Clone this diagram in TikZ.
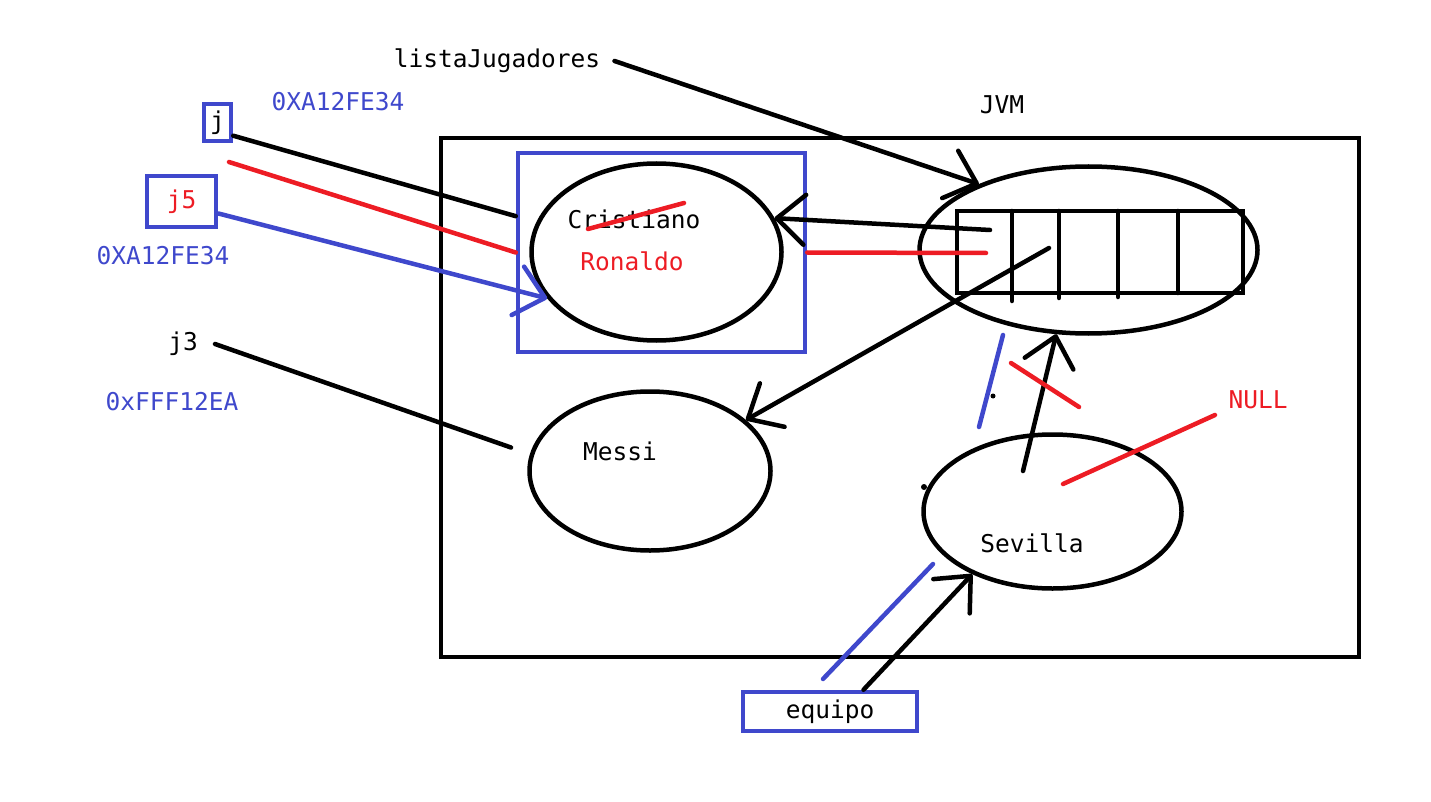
\documentclass[tikz,border=0pt]{standalone}
\usepackage{fontspec}
\setmonofont{DejaVu Sans Mono}
\usetikzlibrary{shapes.geometric,arrows.meta}
\definecolor{pblue}{RGB}{63,72,204}
\definecolor{pred}{RGB}{237,28,36}
\begin{document}
\begin{tikzpicture}[x=1pt,y=-1pt,line width=4.5pt,line cap=round,
  txt/.style={font=\ttfamily\fontsize{24.5}{28}\selectfont,inner sep=0pt},
  ell/.style={draw,ellipse,inner sep=0pt},
  bx/.style={draw=pblue,rectangle,inner sep=0pt},
  hd/.style={-{Straight Barb[length=28pt,width=50pt,round]}}]
\useasboundingbox (0,0) rectangle (1431,802);
\node[draw,minimum width=918pt,minimum height=519pt,inner sep=0pt] (jvm) at (900,397.5) {};
\node[txt] (lista) at (497,61) {listaJugadores};
\node[txt,pblue] (adr1) at (338,102) {0XA12FE34};
\node[txt] (jvmlbl) at (1002,105) {JVM};
\node[bx,txt,minimum width=27pt,minimum height=37pt] (j) at (217.5,122.5) {j};
\node[bx,txt,text=pred,minimum width=69pt,minimum height=51pt] (j5) at (181.5,201.5) {j5};
\node[txt,pblue] (adr2) at (163,256) {0XA12FE34};
\node[txt] (j3) at (183,344) {j3};
\node[txt,pblue] (adr3) at (172,402) {0xFFF12EA};
\node[bx,minimum width=287pt,minimum height=199pt] (cbox) at (661.5,252.5) {};
\node[ell,minimum width=250pt,minimum height=177pt] (cris) at (656.5,252) {};
\node[txt] (nom) at (634,219) {Cristiano};
\node[txt,pred] (ape) at (632,261) {Ronaldo};
\node[ell,minimum width=241pt,minimum height=159pt] (messi) at (650,471) {};
\node[txt] (messilbl) at (620,451) {Messi};
\node[ell,minimum width=338pt,minimum height=167pt] (arr) at (1088.5,250) {};
\node[draw,minimum width=286pt,minimum height=82pt,inner sep=0pt] (celdas) at (1100,252) {};
\foreach \x/\y in {1012/301,1059/298,1118/297,1178/293}
  \draw (\x,211) -- (\x,\y);
\node[ell,minimum width=258pt,minimum height=154pt] (sev) at (1052.5,511.5) {};
\node[txt] (sevlbl) at (1032,543) {Sevilla};
\node[txt,pred] (null) at (1258,400) {NULL};
\node[bx,txt,minimum width=174pt,minimum height=39pt] (equipo) at (830,711.5) {equipo};
\coordinate (r1) at (229,162);
\coordinate (c1) at (990,230);
\coordinate (c2) at (986,253);
\coordinate (c3) at (1049,248);
\coordinate (s1) at (1023,471);
\coordinate (b1) at (823,679);
\coordinate (b2) at (933,564);
\coordinate (n0) at (1063,484);
\coordinate (n1) at (1215,415);
\draw[hd] ([xshift=12pt]lista.east) -- (arr.149);
\draw (j.-40) -- (cbox.166);
\draw[pred] (r1) -- (cbox.west);
\draw[pblue,hd] (j5.-18) -- (cris.203);
\draw[shorten >=20pt] ([xshift=15pt]j3.east) -- (messi.172);
\draw[pred] (588,229) -- (684,203);
\draw[hd] (c1) -- (cris.16);
\draw[pred] (cbox.east) -- (c2);
\draw[hd] (c3) -- (messi.28);
\draw[hd] (s1) -- (arr.249);
\draw[hd] (equipo.33) -- (sev.218);
\draw[pblue] (b1) -- (b2);
\draw[pblue] (1003,335) -- (979,427);
\fill (993,396) circle (2.5pt);
\draw[pred] (1011,363) -- (1079,407);
\draw[pred] (n0) -- (n1);
\fill (924,487) circle (3pt);
\end{tikzpicture}
\end{document}
